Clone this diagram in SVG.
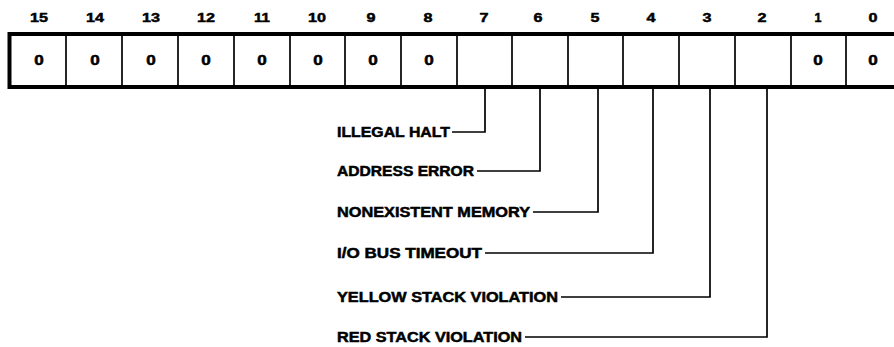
<svg xmlns="http://www.w3.org/2000/svg" width="894" height="347" viewBox="0 0 894 347">
<style>
text{font-family:"Liberation Sans",Arial,sans-serif;font-weight:bold;fill:#000;stroke:#000;stroke-width:0.5}
.bit{font-size:13.5px;text-anchor:middle}
.val{font-size:14px;text-anchor:middle}
.lbl{font-size:14.5px}
.div{stroke:#000;stroke-width:1.7}
.con{fill:none;stroke:#000;stroke-width:1.7}
</style>
<rect width="894" height="347" fill="#fff"/>
<g id="bitnumbers">
<text class="bit" x="39" y="21.5" textLength="18" lengthAdjust="spacingAndGlyphs">15</text>
<text class="bit" x="95" y="21.5" textLength="18" lengthAdjust="spacingAndGlyphs">14</text>
<text class="bit" x="151" y="21.5" textLength="18" lengthAdjust="spacingAndGlyphs">13</text>
<text class="bit" x="206" y="21.5" textLength="18" lengthAdjust="spacingAndGlyphs">12</text>
<text class="bit" x="262" y="21.5" textLength="16" lengthAdjust="spacingAndGlyphs">11</text>
<text class="bit" x="317" y="21.5" textLength="18" lengthAdjust="spacingAndGlyphs">10</text>
<text class="bit" x="371" y="21.5" textLength="9" lengthAdjust="spacingAndGlyphs">9</text>
<text class="bit" x="428" y="21.5" textLength="9" lengthAdjust="spacingAndGlyphs">8</text>
<text class="bit" x="484" y="21.5" textLength="9" lengthAdjust="spacingAndGlyphs">7</text>
<text class="bit" x="538" y="21.5" textLength="9" lengthAdjust="spacingAndGlyphs">6</text>
<text class="bit" x="595" y="21.5" textLength="9" lengthAdjust="spacingAndGlyphs">5</text>
<text class="bit" x="651" y="21.5" textLength="9" lengthAdjust="spacingAndGlyphs">4</text>
<text class="bit" x="707" y="21.5" textLength="9" lengthAdjust="spacingAndGlyphs">3</text>
<text class="bit" x="762" y="21.5" textLength="9" lengthAdjust="spacingAndGlyphs">2</text>
<text class="bit" x="818" y="21.5" textLength="7" lengthAdjust="spacingAndGlyphs">1</text>
<text class="bit" x="873" y="21.5" textLength="9" lengthAdjust="spacingAndGlyphs">0</text>
</g>
<g id="register">
<rect x="9.5" y="34" width="900" height="53" fill="#fff" stroke="#000" stroke-width="4"/>
<line class="div" x1="66" y1="34" x2="66" y2="87"/>
<line class="div" x1="122" y1="34" x2="122" y2="87"/>
<line class="div" x1="178" y1="34" x2="178" y2="87"/>
<line class="div" x1="234" y1="34" x2="234" y2="87"/>
<line class="div" x1="290" y1="34" x2="290" y2="87"/>
<line class="div" x1="345" y1="34" x2="345" y2="87"/>
<line class="div" x1="401" y1="34" x2="401" y2="87"/>
<line class="div" x1="457" y1="34" x2="457" y2="87"/>
<line class="div" x1="512" y1="34" x2="512" y2="87"/>
<line class="div" x1="568" y1="34" x2="568" y2="87"/>
<line class="div" x1="623" y1="34" x2="623" y2="87"/>
<line class="div" x1="679" y1="34" x2="679" y2="87"/>
<line class="div" x1="735" y1="34" x2="735" y2="87"/>
<line class="div" x1="791" y1="34" x2="791" y2="87"/>
<line class="div" x1="846" y1="34" x2="846" y2="87"/>
<text class="val" x="39" y="64.5" textLength="9.5" lengthAdjust="spacingAndGlyphs">0</text>
<text class="val" x="95" y="64.5" textLength="9.5" lengthAdjust="spacingAndGlyphs">0</text>
<text class="val" x="151" y="64.5" textLength="9.5" lengthAdjust="spacingAndGlyphs">0</text>
<text class="val" x="206" y="64.5" textLength="9.5" lengthAdjust="spacingAndGlyphs">0</text>
<text class="val" x="262" y="64.5" textLength="9.5" lengthAdjust="spacingAndGlyphs">0</text>
<text class="val" x="318" y="64.5" textLength="9.5" lengthAdjust="spacingAndGlyphs">0</text>
<text class="val" x="373" y="64.5" textLength="9.5" lengthAdjust="spacingAndGlyphs">0</text>
<text class="val" x="429" y="64.5" textLength="9.5" lengthAdjust="spacingAndGlyphs">0</text>
<text class="val" x="818" y="64.5" textLength="9.5" lengthAdjust="spacingAndGlyphs">0</text>
<text class="val" x="873" y="64.5" textLength="9.5" lengthAdjust="spacingAndGlyphs">0</text>
</g>
<g id="labels">
<text id="illegal-halt" class="lbl" x="337" y="137" textLength="113" lengthAdjust="spacingAndGlyphs">ILLEGAL HALT</text>
<text id="address-error" class="lbl" x="337" y="176" textLength="137" lengthAdjust="spacingAndGlyphs">ADDRESS ERROR</text>
<text id="nonexistent-memory" class="lbl" x="337" y="217" textLength="193" lengthAdjust="spacingAndGlyphs">NONEXISTENT MEMORY</text>
<text id="io-bus-timeout" class="lbl" x="337" y="258" textLength="145" lengthAdjust="spacingAndGlyphs">I/O BUS TIMEOUT</text>
<text id="yellow-stack" class="lbl" x="337" y="302" textLength="221" lengthAdjust="spacingAndGlyphs">YELLOW STACK VIOLATION</text>
<text id="red-stack" class="lbl" x="337" y="342" textLength="185" lengthAdjust="spacingAndGlyphs">RED STACK VIOLATION</text>
</g>
<g id="connectors">
<path class="con" d="M485 89 V132 H452"/>
<path class="con" d="M540 89 V171 H477"/>
<path class="con" d="M598 89 V212 H533"/>
<path class="con" d="M653 89 V253 H485"/>
<path class="con" d="M710 89 V297 H561"/>
<path class="con" d="M767 89 V337 H525"/>
</g>
</svg>
